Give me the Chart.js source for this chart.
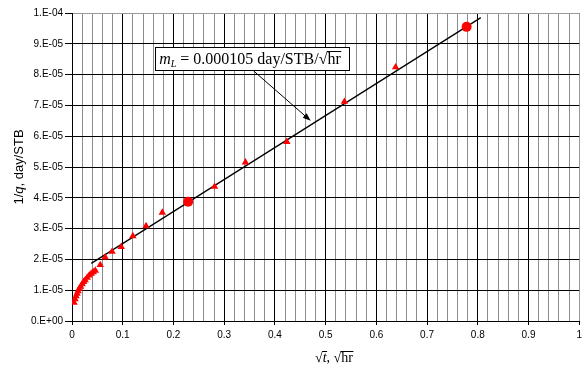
<!DOCTYPE html>
<html>
<head>
<meta charset="utf-8">
<script src="https://cdn.jsdelivr.net/npm/chart.js@4"></script>
<style>
  html, body { margin: 0; padding: 0; background: #fff; }
  #wrap { width: 586px; height: 366px; position: relative; }
</style>
</head>
<body>
<div id="wrap"><canvas id="chart" width="586" height="366"></canvas></div>
<script>
// measured points (sqrt t, 1/q)
const triX = [0.004, 0.006, 0.008, 0.010, 0.012, 0.014, 0.017, 0.020, 0.023, 0.026, 0.030, 0.034, 0.038, 0.042, 0.046,
              0.0557, 0.0655, 0.079, 0.097, 0.120, 0.146, 0.178, 0.281, 0.342, 0.4235, 0.537, 0.638];
const triY = [0.60e-5, 0.71e-5, 0.81e-5, 0.89e-5, 0.97e-5, 1.04e-5, 1.12e-5, 1.20e-5, 1.27e-5, 1.33e-5, 1.41e-5, 1.48e-5, 1.54e-5, 1.59e-5, 1.64e-5,
              1.82e-5, 2.07e-5, 2.25e-5, 2.41e-5, 2.76e-5, 3.08e-5, 3.52e-5, 4.36e-5, 5.15e-5, 5.82e-5, 7.12e-5, 8.24e-5];

// the two points picked for the straight line
const circX = [0.229, 0.778];
const circY = [3.87e-5, 9.55e-5];

// straight line end points
const fitX = [0.038, 0.806];
const fitY = [1.87e-5, 9.85e-5];

// annotation (data coords)
const noteBox = { x0: 0.164, y0: 8.89e-5, x1: 0.5465, y1: 8.15e-5 };
const noteArrow = { x0: 0.358, y0: 8.12e-5, x1: 0.4706, y1: 6.50e-5 };

const toPts = (xs, ys) => xs.map((x, i) => ({ x: x, y: ys[i] }));

const serif = '"Liberation Serif", "Times New Roman", serif';
const sans = '"Liberation Sans", Arial, sans-serif';

// draw "√text" with the bar over text, returns end x
function drawSqrt(ctx, x, base, text, size, style) {
    ctx.font = size + 'px ' + serif;
    ctx.fillText('\u221A', x, base);
    const w = ctx.measureText('\u221A').width;
    ctx.font = (style || '') + size + 'px ' + serif;
    ctx.fillText(text, x + w, base);
    const tw = ctx.measureText(text).width;
    const top = Math.round(base - size * 0.82) + 0.5;
    ctx.beginPath();
    ctx.lineWidth = 1;
    ctx.moveTo(x + w - 0.5, top);
    ctx.lineTo(x + w + tw + 0.5, top);
    ctx.stroke();
    return x + w + tw;
}

const extras = {
    id: 'extras',
    afterDraw(chart) {
        const { ctx, scales: { x, y } } = chart;
        ctx.save();
        ctx.fillStyle = '#000';
        ctx.strokeStyle = '#000';
        ctx.textBaseline = 'alphabetic';
        ctx.textAlign = 'left';

        // y title
        ctx.save();
        ctx.translate(23, (y.top + y.bottom) / 2);
        ctx.rotate(-Math.PI / 2);
        const parts = [['1/', ''], ['q', 'italic '], [', day/STB', '']];
        let tot = 0;
        parts.forEach(p => { ctx.font = p[1] + '13px ' + sans; tot += ctx.measureText(p[0]).width; });
        let px = -tot / 2;
        parts.forEach(p => {
            ctx.font = p[1] + '13px ' + sans;
            ctx.fillText(p[0], px, 0);
            px += ctx.measureText(p[0]).width;
        });
        ctx.restore();

        // x title
        let ex = drawSqrt(ctx, 315, 362, 't', 14, 'italic ');
        ctx.font = '14px ' + serif;
        ctx.fillText(', ', ex, 362);
        ex += ctx.measureText(', ').width;
        drawSqrt(ctx, ex, 362, 'hr', 14);

        // annotation box
        const bx0 = x.getPixelForValue(noteBox.x0), by0 = y.getPixelForValue(noteBox.y0);
        const bx1 = x.getPixelForValue(noteBox.x1), by1 = y.getPixelForValue(noteBox.y1);
        ctx.fillStyle = '#fff';
        ctx.fillRect(bx0, by0, bx1 - bx0, by1 - by0);
        ctx.lineWidth = 1;
        ctx.strokeStyle = '#000';
        ctx.strokeRect(Math.round(bx0) + 0.5, Math.round(by0) + 0.5, Math.round(bx1 - bx0), Math.round(by1 - by0));
        ctx.fillStyle = '#000';
        const base = by0 + 17;
        let tx = bx0 + 4;
        ctx.font = 'italic 16px ' + serif;
        ctx.fillText('m', tx, base);
        tx += ctx.measureText('m').width;
        ctx.font = 'italic 10px ' + serif;
        ctx.fillText('L', tx, base + 3);
        tx += ctx.measureText('L').width;
        ctx.font = '16px ' + serif;
        const mid = ' = 0.000105 day/STB/';
        ctx.fillText(mid, tx, base);
        tx += ctx.measureText(mid).width;
        drawSqrt(ctx, tx, base, 'hr', 16);

        // arrow
        const ax0 = x.getPixelForValue(noteArrow.x0), ay0 = y.getPixelForValue(noteArrow.y0);
        const ax1 = x.getPixelForValue(noteArrow.x1), ay1 = y.getPixelForValue(noteArrow.y1);
        const ang = Math.atan2(ay1 - ay0, ax1 - ax0);
        ctx.beginPath();
        ctx.lineWidth = 1;
        ctx.moveTo(ax0, ay0);
        ctx.lineTo(ax1 - 5 * Math.cos(ang), ay1 - 5 * Math.sin(ang));
        ctx.stroke();
        ctx.beginPath();
        ctx.moveTo(ax1, ay1);
        ctx.lineTo(ax1 - 8 * Math.cos(ang) + 3 * Math.sin(ang), ay1 - 8 * Math.sin(ang) - 3 * Math.cos(ang));
        ctx.lineTo(ax1 - 8 * Math.cos(ang) - 3 * Math.sin(ang), ay1 - 8 * Math.sin(ang) + 3 * Math.cos(ang));
        ctx.closePath();
        ctx.fill();

        ctx.restore();
    }
};

new Chart(document.getElementById('chart'), {
    type: 'scatter',
    data: {
        datasets: [{
            label: 'fit',
            data: toPts(fitX, fitY),
            showLine: true,
            borderColor: '#000',
            borderWidth: 1.3,
            pointRadius: 0,
            order: 3
        }, {
            label: 'data',
            data: toPts(triX, triY),
            pointStyle: 'triangle',
            pointRadius: 4.3,
            backgroundColor: '#ff0000',
            borderColor: '#ff0000',
            borderWidth: 0,
            order: 1
        }, {
            label: 'picked',
            data: toPts(circX, circY),
            pointStyle: 'circle',
            pointRadius: 5,
            backgroundColor: '#ff0000',
            borderColor: '#ff0000',
            borderWidth: 0,
            order: 2
        }]
    },
    options: {
        responsive: false,
        animation: false,
        layout: { padding: { left: 0, right: 4, top: 13, bottom: 0 } },
        plugins: {
            legend: { display: false },
            tooltip: { enabled: false }
        },
        scales: {
            x: {
                type: 'linear',
                min: 0,
                max: 1,
                afterFit: s => { s.height = 45; },
                ticks: {
                    stepSize: 0.02,
                    autoSkip: false,
                    maxRotation: 0,
                    padding: 4,
                    color: '#000',
                    font: { family: sans, size: 10 },
                    callback: v => {
                        const n = Math.round(v * 50);
                        return n % 5 === 0 ? String(n / 50) : '';
                    }
                },
                grid: {
                    color: c => {
                        const n = Math.round(c.tick.value * 50);
                        if (n === 50) return '#999';
                        return n % 5 === 0 ? '#000' : '#8c8c8c';
                    },
                    tickColor: c => Math.round(c.tick.value * 50) % 5 === 0 ? '#000' : 'rgba(0,0,0,0)',
                    tickLength: 4
                },
                border: { color: '#000' }
            },
            y: {
                type: 'linear',
                min: 0,
                max: 1e-4,
                afterFit: s => { s.width = 72; },
                ticks: {
                    stepSize: 1e-5,
                    padding: 2,
                    color: '#000',
                    font: { family: sans, size: 10 },
                    callback: v => {
                        const n = Math.round(v * 1e5);
                        if (n === 0) return '0.E+00';
                        if (n === 10) return '1.E-04';
                        return n + '.E-05';
                    }
                },
                grid: {
                    color: c => Math.round(c.tick.value * 1e5) === 10 ? '#999' : '#000',
                    tickColor: '#000',
                    tickLength: 7
                },
                border: { color: '#000' }
            }
        }
    },
    plugins: [extras]
});
</script>
</body>
</html>
